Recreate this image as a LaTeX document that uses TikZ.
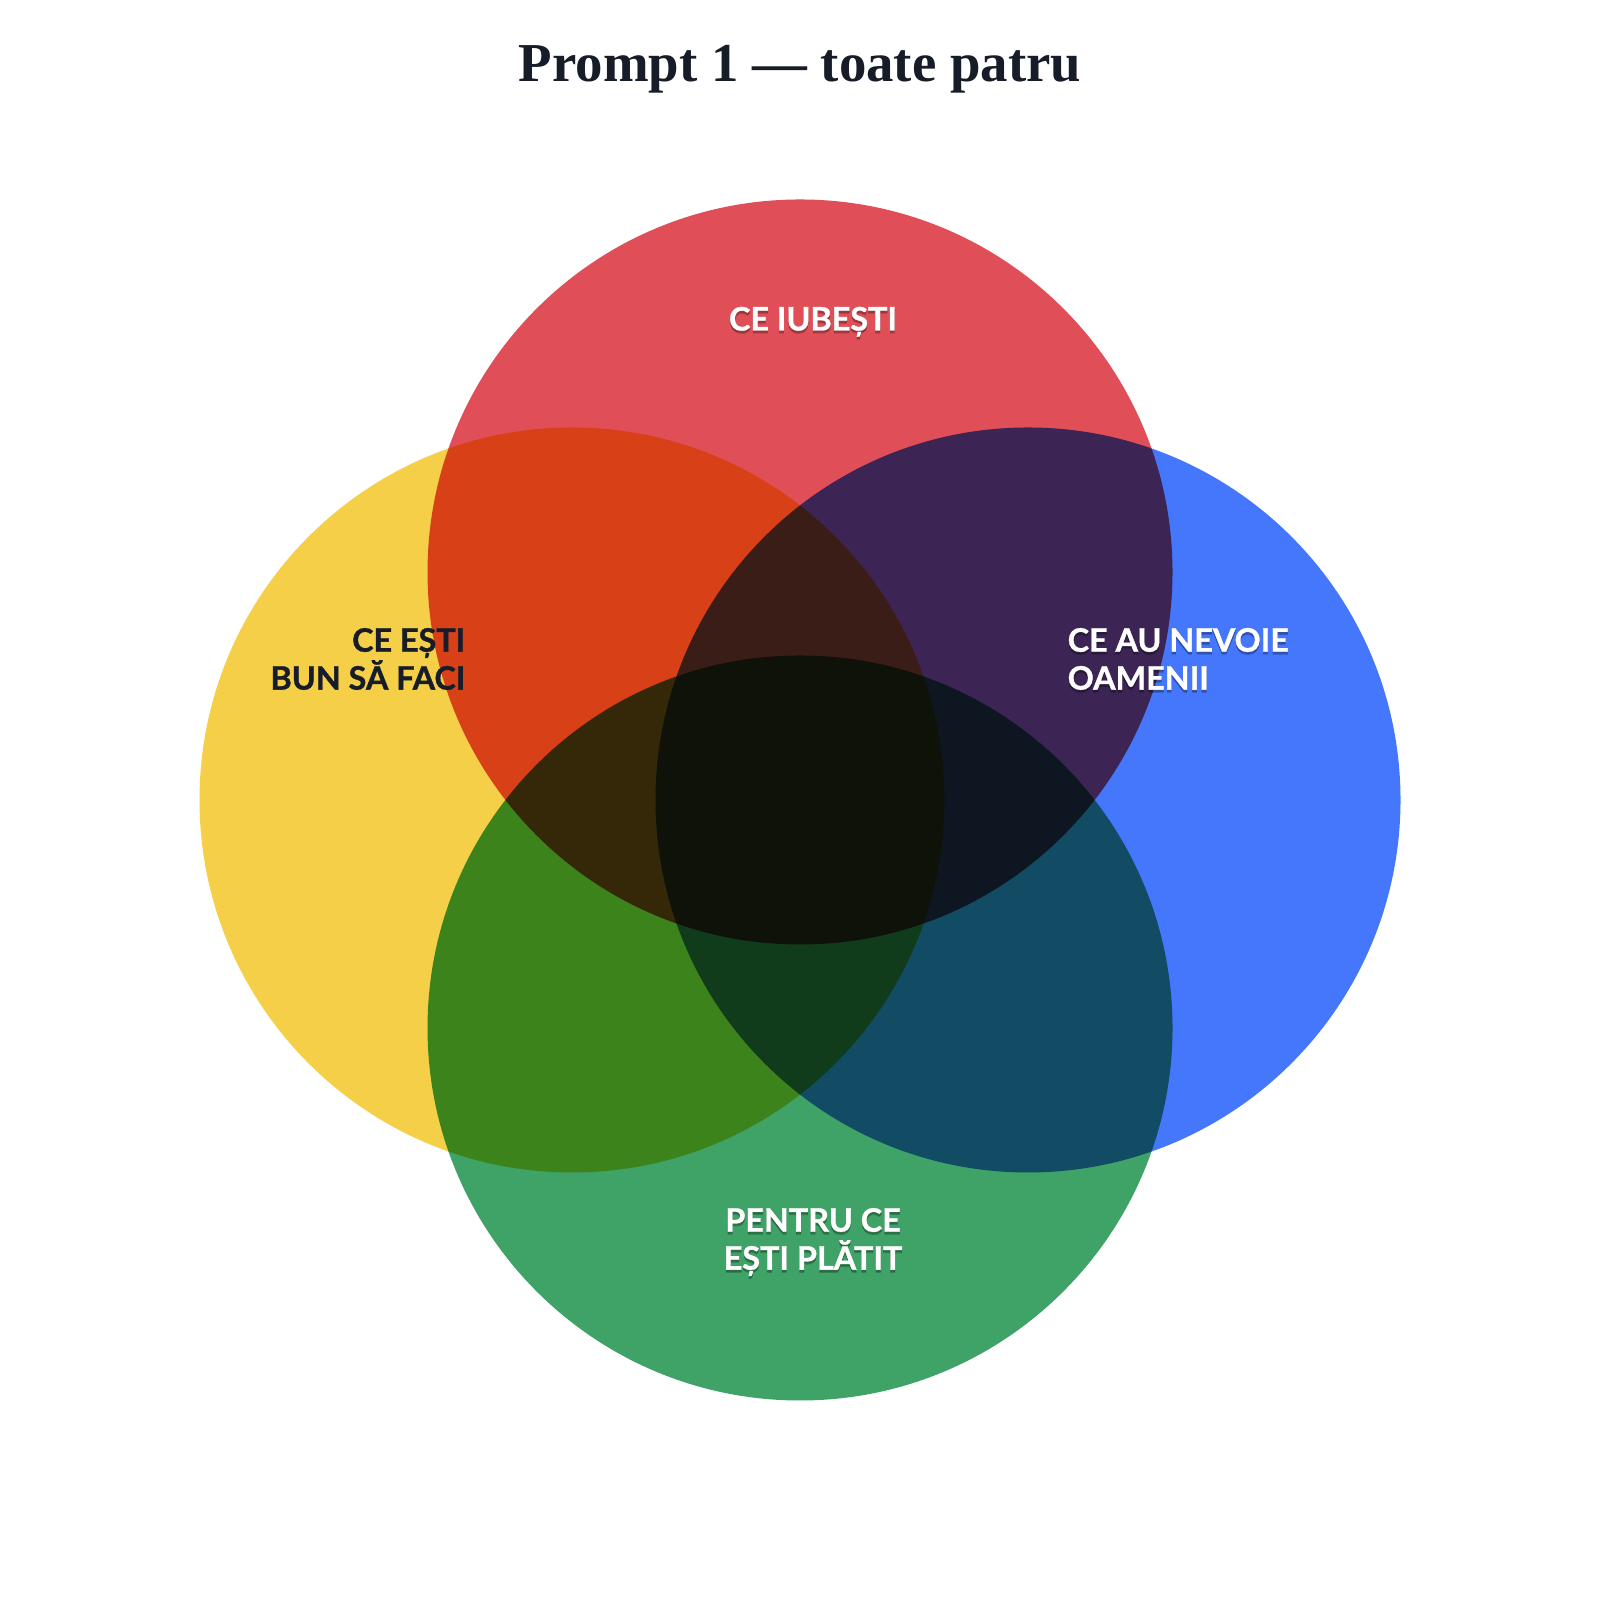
\documentclass[tikz,border=0pt]{standalone}
\usepackage{fontspec}
\setmainfont{Liberation Serif}
\newfontfamily\lblfont{Lato}[BoldFeatures={FakeBold=1}]
\definecolor{cred}{HTML}{E04F57}
\definecolor{cyel}{HTML}{F6CF48}
\definecolor{cblue}{HTML}{4577FC}
\definecolor{cgreen}{HTML}{3FA266}
\definecolor{ink}{HTML}{161C28}
\tikzset{
  venn/.style={blend mode=multiply},
  lbl/.style={inner sep=0pt, font=\lblfont\bfseries\fontsize{9.2}{10.8}\selectfont},
  lblwhite/.style={lbl, text=white},
  lbldark/.style={lbl, text=ink},
  lblshadow/.style={lbl, text=black, text opacity=0.16},
}
\begin{document}
\begin{tikzpicture}
\useasboundingbox (0,0) rectangle (16,16);
\fill[white] (0,0) rectangle (16,16);
% circles (centres in px: red (800,572), yellow (572,800), blue (1028,800), green (800,1028), r = 372.5)
\fill[venn, cred]   (8.00,10.28) circle (3.725);
\fill[venn, cyel]   (5.72,8.00)  circle (3.725);
\fill[venn, cblue]  (10.28,8.00) circle (3.725);
\fill[venn, cgreen] (8.00,5.72)  circle (3.725);
% title
\node[anchor=base, text=ink, font=\bfseries\fontsize{15.6}{18}\selectfont] (title) at (8.00,15.18) {Prompt 1 — toate patru};
% labels (white ones carry a soft shadow)
\node[lblshadow, anchor=base] (loveS1) at (8.13,12.665) {CE IUBEȘTI};
\node[lblshadow, anchor=base] (loveS2) at (8.13,12.675) {CE IUBEȘTI};
\node[lblwhite, anchor=base] (love) at (8.13,12.695) {CE IUBEȘTI};
\node[lbldark, anchor=east, align=right] (good) at (4.66,9.41) {CE EȘTI\\BUN SĂ FACI};
\node[lblshadow, anchor=west, align=left] (needS1) at (10.67,9.38) {CE AU NEVOIE\\OAMENII};
\node[lblshadow, anchor=west, align=left] (needS2) at (10.67,9.39) {CE AU NEVOIE\\OAMENII};
\node[lblwhite, anchor=west, align=left] (need) at (10.67,9.41) {CE AU NEVOIE\\OAMENII};
\node[lblshadow, align=center] (paidS1) at (8.13,3.55) {PENTRU CE\\EȘTI PLĂTIT};
\node[lblshadow, align=center] (paidS2) at (8.13,3.56) {PENTRU CE\\EȘTI PLĂTIT};
\node[lblwhite, align=center] (paid) at (8.13,3.58) {PENTRU CE\\EȘTI PLĂTIT};
\end{tikzpicture}
\end{document}
